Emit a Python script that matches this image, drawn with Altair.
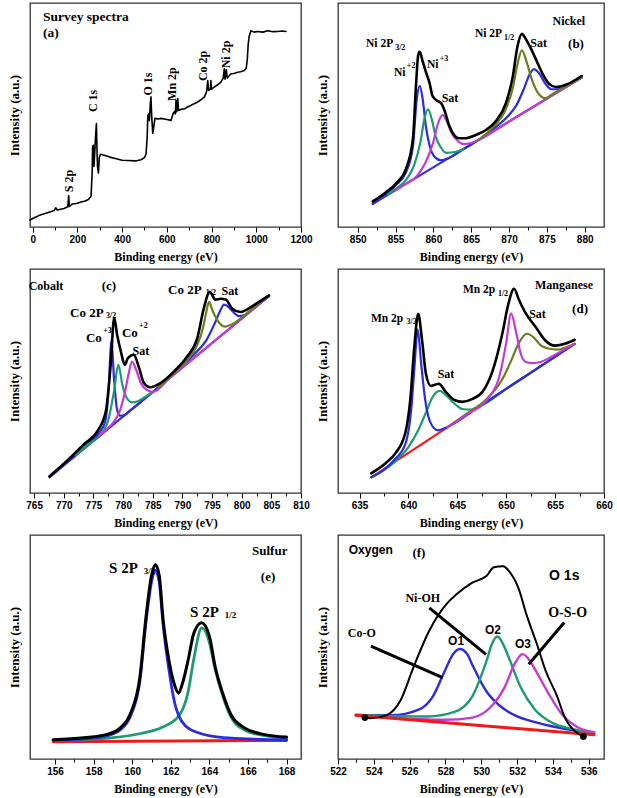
import altair as alt
import pandas as pd

# ---------------- colours ----------------
BLACK = "#000000"
BLUE = "#2b2be0"
GREEN = "#1f9a6e"
MAGENTA = "#c43bd4"
OLIVE = "#6b7d1e"
RED = "#f01818"

# ---------------- (a) survey ----------------
a_x = [-12, 7, 30, 52, 80, 97, 103, 110, 140, 157, 161, 164, 179, 200, 216, 235, 249, 261, 266, 268,
       271, 274, 278, 281, 285, 288, 290, 294, 298, 303, 320, 345, 365, 400, 425, 460, 484, 500, 507,
       512, 515, 519, 522, 526, 529, 532, 537, 542, 547, 560, 574, 600, 619, 628, 634, 638, 641, 644,
       649, 652, 663, 680, 693, 715, 738, 755, 768, 778, 783, 787, 795, 797, 800, 812, 828, 842, 852,
       857, 860, 866, 870, 887, 900, 917, 930, 946, 955, 960, 964, 968, 976, 990, 1006, 1030, 1051,
       1075, 1096, 1115, 1133]
a_y = [3.1, 4.1, 5.2, 5.9, 6.8, 7.4, 8.6, 7.6, 8.3, 9.0, 14.0, 9.2, 10.3, 10.6, 11.2, 11.6, 12.3, 13.7,
       24.0, 35.9, 36.5, 27.0, 34.0, 40.0, 46.2, 33.0, 27.0, 24.1, 31.0, 32.5, 32.0, 31.2, 30.7, 29.8,
       29.7, 29.5, 30.0, 31.0, 32.6, 40.0, 49.9, 50.5, 47.5, 55.0, 58.1, 50.0, 41.8, 45.0, 48.5, 48.2,
       48.5, 48.0, 47.6, 50.7, 51.5, 50.5, 56.5, 51.5, 57.3, 52.0, 52.5, 52.8, 53.6, 54.7, 55.8, 57.0,
       58.1, 60.5, 65.4, 61.0, 61.5, 65.4, 61.5, 62.5, 63.5, 64.7, 66.5, 70.6, 66.0, 70.3, 66.5, 68.4,
       68.5, 69.1, 69.3, 69.9, 70.8, 75.0, 81.7, 85.0, 87.6, 87.0, 87.3, 87.0, 87.6, 87.2, 87.3, 87.5,
       87.3]
a_labels = [("Survey spectra", 46, 93.75, "lefttitle"), ("(a)", 46, 86.6, "lefttitle"),
            ("S 2p", 162, 20.5, "rot"), ("C 1s", 270, 56.3, "rot"), ("O 1s", 516, 63.8, "rot"),
            ("Mn 2p", 623, 63.8, "rot"), ("Co 2p", 762, 71.9, "rot"), ("Ni 2p", 865, 77.0, "rot")]

# ---------------- (b) nickel ----------------
b_black_x = [852.0, 853.7, 855.1, 856.4, 857.3, 857.7, 858.0, 858.2, 858.6, 859.0, 859.5, 859.9, 860.6,
             861.0, 861.5, 862.1, 862.8, 863.4, 864.3, 865.6, 867.0, 868.3, 869.6, 870.5, 871.1, 871.7,
             872.2, 872.9, 873.6, 874.4, 875.3, 876.2, 877.5, 879.6]
b_black_y = [11.4, 15.4, 19.5, 26.1, 39.3, 62.8, 76.7, 78.2, 73.8, 69.4, 64.2, 58.4, 56.2, 55.4, 51.8,
             45.2, 40.8, 39.6, 39.6, 41.1, 43.4, 47.4, 55.4, 67.2, 80.4, 86.2, 84.0, 79.6, 74.5, 68.6,
             63.9, 62.5, 63.5, 67.4]
b_base_x = [852.0, 879.6]
b_base_y = [10.3, 66.7]
b_blue1_x = [852.0, 855.0, 856.4, 857.3, 857.8, 858.2, 858.6, 859.0, 859.5, 860.2, 861.0, 862.0, 864.0, 866.0]
b_blue1_y = [10.3, 18.5, 24.5, 36.0, 56.9, 63.0, 56.9, 45.2, 36.4, 31.2, 29.8, 30.7, 34.8, 38.9]
b_blue2_x = [866.0, 868.0, 870.0, 871.0, 872.0, 872.7, 873.3, 874.0, 874.8, 875.6, 876.5, 877.5, 878.5, 879.6]
b_blue2_y = [38.9, 44.0, 50.0, 54.5, 62.0, 68.0, 70.5, 68.5, 64.0, 61.5, 61.5, 62.8, 64.8, 66.7]
b_green_x = [854.0, 855.0, 856.5, 857.5, 858.3, 858.8, 859.3, 859.8, 860.3, 861.0, 861.7, 863.0, 864.0]
b_green_y = [14.6, 17.0, 21.5, 28.0, 38.0, 48.0, 52.5, 48.0, 40.5, 35.5, 33.1, 33.6, 34.8]
b_mag_x = [855.0, 856.0, 858.0, 859.0, 860.0, 860.6, 861.2, 861.8, 862.4, 863.2, 864.0, 865.0, 866.0,
           870.0, 874.0, 877.0, 879.6]
b_mag_y = [16.4, 18.5, 23.5, 29.0, 38.0, 46.0, 49.9, 47.0, 42.0, 38.5, 37.0, 37.5, 38.9,
           47.1, 55.3, 61.4, 66.7]
b_olive_x = [866.0, 868.0, 869.5, 870.5, 871.2, 871.7, 872.3, 873.0, 873.8, 874.8, 875.8, 877.0, 878.3, 879.6]
b_olive_y = [38.9, 45.0, 52.0, 62.0, 74.0, 78.9, 74.0, 66.0, 60.0, 57.5, 59.5, 61.8, 64.3, 66.7]
b_labels = [("Nickel", 877.9, 92.0, "name"), ("(b)", 878.85, 81.7, "tag"),
            ("Ni 2P", 851.1, 81.7, "peak"), ("3/2", 854.95, 80.1, "small"),
            ("Ni", 854.8, 68.75, "peak"), ("+2", 856.5, 71.9, "small"),
            ("Ni", 859.16, 72.3, "peak"), ("+3", 860.85, 75.0, "small"),
            ("Sat", 862.2, 57.6, "peakc"),
            ("Ni 2P", 865.5, 86.2, "peak"), ("1/2", 869.35, 84.4, "small"),
            ("Sat", 873.9, 82.1, "peakc")]

# ---------------- (c) cobalt ----------------
c_black_x = [767.6, 770.6, 773.4, 775.7, 777.1, 777.9, 778.5, 779.0, 779.6, 780.3, 780.8, 781.8, 782.7,
             783.5, 784.6, 786.3, 788.6, 790.8, 792.5, 793.6, 794.6, 795.6, 796.4, 797.3, 798.4, 799.8,
             802.0, 804.6]
c_black_y = [7.5, 14.5, 21.8, 27.7, 36.6, 57.2, 78.2, 70.5, 63.4, 57.2, 60.2, 61.7, 55.8, 49.1, 47.2,
             49.1, 54.3, 60.9, 69.0, 82.3, 89.7, 86.3, 86.7, 86.4, 82.3, 80.8, 83.8, 88.2]
c_base_x = [767.6, 804.6]
c_base_y = [7.1, 87.9]
c_blue1_x = [767.6, 774.0, 776.0, 777.0, 777.6, 778.0, 778.5, 779.0, 779.5, 780.0, 781.0, 783.0, 786.0]
c_blue1_y = [7.1, 22.0, 27.0, 32.0, 48.0, 68.3, 50.0, 37.0, 34.5, 34.5, 36.4, 40.7, 47.3]
c_blue2_x = [786.0, 788.0, 790.0, 792.0, 794.0, 795.5, 796.5, 797.0, 797.6, 798.5, 799.5, 800.5, 802.0, 804.6]
c_blue2_y = [47.3, 52.2, 57.0, 62.0, 68.0, 76.0, 82.0, 84.1, 83.5, 81.0, 79.0, 79.5, 82.5, 87.9]
c_green_x = [772.0, 774.0, 776.5, 777.5, 778.5, 779.2, 779.9, 780.6, 781.5, 782.5, 783.5, 785.0]
c_green_y = [16.8, 21.5, 27.0, 32.5, 46.0, 57.2, 48.0, 42.5, 40.5, 41.0, 42.5, 45.1]
c_mag_x = [776.0, 777.0, 778.5, 779.5, 780.3, 781.0, 781.5, 782.2, 783.0, 784.0, 785.0,
           788.0, 792.0, 796.0, 800.0, 804.6]
c_mag_y = [25.4, 28.0, 32.0, 37.0, 45.0, 54.0, 58.7, 55.0, 49.0, 46.0, 45.1,
           51.7, 60.4, 69.1, 77.9, 87.9]
c_olive_x = [786.0, 789.0, 791.0, 792.5, 793.5, 794.0, 794.5, 795.0, 795.5, 796.2, 797.2, 799.0, 801.0, 803.0, 804.6]
c_olive_y = [47.3, 54.5, 60.0, 66.0, 74.0, 80.5, 85.3, 82.0, 79.0, 76.0, 74.3, 76.3, 80.5, 84.9, 87.9]
c_labels = [("Cobalt", 767.0, 92.4, "name"), ("(c)", 777.6, 92.4, "tag"),
            ("Co 2P", 771.05, 80.4, "peakM"), ("3/2", 777.1, 79.0, "small"),
            ("Co", 773.74, 69.2, "peakM"), ("+3", 776.65, 72.3, "small"),
            ("Co", 779.81, 71.4, "peakM"), ("+2", 782.7, 74.6, "small"),
            ("Sat", 783.0, 63.4, "peakc"),
            ("Co 2P", 787.57, 90.6, "peakM"), ("1/2", 793.95, 89.3, "small"),
            ("Sat", 798.0, 90.2, "peakc")]

# ---------------- (d) manganese ----------------
d_black_x = [636.2, 637.7, 638.7, 639.7, 640.2, 640.6, 641.0, 641.4, 641.8, 642.3, 642.7, 643.1, 643.8,
             644.7, 645.5, 646.5, 647.6, 648.6, 649.6, 650.2, 650.8, 651.3, 652.0, 653.0, 654.0, 655.0,
             656.0, 657.0]
d_black_y = [8.8, 13.4, 17.9, 27.1, 42.0, 65.0, 80.0, 68.0, 53.0, 47.8, 48.3, 48.8, 45.3, 41.5, 40.7,
             41.9, 45.3, 54.4, 71.1, 84.0, 91.2, 86.3, 80.2, 74.2, 68.1, 65.8, 66.6, 68.4]
d_base_x = [636.2, 657.0]
d_base_y = [7.0, 66.6]
d_blue_x = [636.2, 638.5, 639.7, 640.3, 640.6, 640.95, 641.3, 641.7, 642.2, 643.0, 644.0, 647.0, 650.0,
            653.0, 657.0]
d_blue_y = [7.0, 14.5, 22.0, 38.0, 55.0, 72.9, 58.0, 42.0, 32.0, 28.0, 29.5, 37.9, 46.5, 55.1, 66.6]
d_green_x = [636.2, 638.5, 640.0, 641.0, 641.8, 642.5, 643.2, 644.0, 644.8, 645.5, 646.3, 647.0, 650.0,
             653.0, 657.0]
d_green_y = [7.0, 13.5, 20.5, 28.0, 36.0, 43.0, 45.6, 43.0, 39.5, 37.5, 37.2, 38.0, 46.5, 55.1, 66.6]
d_mag_x = [644.0, 646.0, 648.0, 649.3, 650.0, 650.5, 651.0, 651.5, 652.0, 652.7, 653.5, 654.5, 655.5, 657.0]
d_mag_y = [29.4, 35.2, 41.5, 52.0, 67.0, 80.2, 72.0, 62.0, 58.5, 58.0, 58.5, 60.5, 63.0, 66.6]
d_olive_x = [644.0, 646.0, 648.0, 649.5, 650.5, 651.3, 652.1, 652.8, 653.5, 654.3, 655.2, 656.2, 657.0]
d_olive_y = [29.4, 35.5, 42.0, 50.0, 59.0, 67.0, 71.1, 69.5, 66.0, 64.5, 64.0, 65.2, 66.6]
d_labels = [("Manganese", 655.91, 92.7, "name"), ("(d)", 657.55, 82.3, "tag"),
            ("Mn 2p", 636.17, 77.7, "peak"), ("3/2", 639.8, 76.3, "small"),
            ("Sat", 643.84, 53.1, "peakc"),
            ("Mn 2p", 645.58, 90.6, "peak"), ("1/2", 649.15, 88.8, "small"),
            ("Sat", 653.2, 80.0, "peakc")]

# ---------------- (e) sulfur ----------------
e_black_x = [155.9, 157.5, 158.7, 159.4, 159.9, 160.4, 160.7, 161.0, 161.2, 161.4, 161.6, 161.9, 162.2,
             162.4, 162.6, 162.9, 163.2, 163.6, 164.0, 164.3, 164.7, 165.1, 165.8, 166.8, 168.0]
e_black_y = [8.6, 9.5, 11.0, 14.0, 20.1, 36.7, 62.3, 81.9, 86.7, 81.9, 62.3, 44.2, 32.9, 29.4, 33.6,
             44.2, 56.3, 60.8, 54.8, 41.2, 29.1, 20.1, 14.0, 11.0, 9.8]
e_blue_x = [155.9, 157.5, 158.7, 159.4, 159.9, 160.4, 160.7, 161.0, 161.2, 161.4, 161.6, 161.9, 162.2,
            162.4, 162.8, 163.5, 164.5, 166.0, 168.0]
e_blue_y = [8.4, 9.0, 10.4, 13.2, 19.0, 35.0, 60.0, 79.0, 84.2, 79.0, 60.0, 40.0, 25.0, 19.5, 14.5,
            11.5, 9.8, 9.0, 8.6]
e_green_x = [155.9, 159.0, 160.5, 161.5, 162.4, 162.9, 163.2, 163.6, 164.0, 164.3, 164.7, 165.1, 165.8, 166.8, 168.0]
e_green_y = [8.2, 9.5, 11.5, 14.0, 19.0, 30.0, 45.0, 58.5, 52.0, 40.0, 28.0, 19.0, 13.0, 10.5, 9.3]
e_base_x = [155.9, 168.0]
e_base_y = [7.7, 8.3]
e_labels = [("Sulfur", 167.13, 92.9, "nameL"), ("(e)", 167.04, 81.4, "tag"),
            ("S 2P", 158.8, 85.3, "peakL"), ("3/2", 160.6, 83.9, "smallL"),
            ("S 2P", 163.0, 65.6, "peakL"), ("1/2", 164.8, 64.3, "smallL")]

# ---------------- (f) oxygen ----------------
f_black_x = [523.5, 523.8, 524.7, 525.5, 526.2, 527.1, 528.1, 528.6, 529.5, 530.3, 530.7, 531.2, 531.6,
             532.1, 532.5, 533.1, 533.6, 534.2, 534.7, 535.3, 535.7]
f_black_y = [18.5, 18.2, 19.5, 26.3, 40.7, 57.4, 69.6, 73.4, 78.7, 81.8, 85.6, 86.0, 83.3, 75.7, 65.0,
             51.4, 39.2, 28.6, 17.9, 11.9, 10.0]
f_base_x = [523.0, 536.3]
f_base_y = [19.5, 10.8]
f_blue_x = [523.0, 525.0, 526.5, 527.3, 528.0, 528.4, 528.8, 529.2, 529.5, 530.3, 531.0, 532.0, 533.0, 534.0, 535.0, 536.3]
f_blue_y = [19.7, 19.5, 22.0, 28.0, 40.0, 46.5, 49.1, 47.0, 42.0, 30.0, 24.0, 19.0, 16.5, 14.5, 13.0, 11.5]
f_green_x = [523.0, 527.0, 528.5, 529.5, 530.3, 530.6, 530.9, 531.2, 531.5, 532.2, 533.0, 534.0, 535.0, 536.3]
f_green_y = [19.7, 19.0, 21.0, 28.0, 44.0, 51.5, 54.7, 51.5, 46.0, 32.0, 22.0, 16.0, 13.5, 11.8]
f_mag_x = [523.0, 528.0, 529.5, 530.5, 531.3, 531.9, 532.3, 532.7, 533.0, 533.7, 534.5, 535.3, 536.3]
f_mag_y = [19.5, 17.5, 18.5, 23.0, 32.0, 43.0, 46.8, 44.0, 40.0, 30.0, 20.0, 14.5, 12.0]
f_pointer_x = [523.84, 527.1, 534.63]
f_pointer_y = [50.4, 67.5, 60.9]
f_pointer_x2 = [527.84, 530.26, 532.65]
f_pointer_y2 = [36.3, 46.7, 42.3]
f_labels = [("Oxygen", 523.83, 93.3, "sans"), ("(f)", 526.52, 91.8, "tag"),
            ("O 1s", 534.63, 81.7, "sansbig"), ("Ni-OH", 526.73, 72.0, "peakc"),
            ("Co-O", 523.33, 56.1, "peakc"), ("O1", 528.59, 52.7, "sans"),
            ("O2", 530.65, 57.6, "sans"), ("O3", 532.33, 51.2, "sans"),
            ("O-S-O", 534.82, 65.0, "peakbig")]

# ---------------- styles ----------------
SERIF = "Liberation Serif"
SANS = "Liberation Sans"
STYLES = {
    "lefttitle": dict(font=SERIF, fontSize=13.5, fontWeight="bold", align="left"),
    "rot": dict(font=SERIF, fontSize=12, fontWeight="bold", align="center", angle=270),
    "name": dict(font=SERIF, fontSize=12, fontWeight="bold", align="center"),
    "nameL": dict(font=SERIF, fontSize=13, fontWeight="bold", align="center"),
    "tag": dict(font=SERIF, fontSize=13, fontWeight="bold", align="center"),
    "peak": dict(font=SERIF, fontSize=11.5, fontWeight="bold", align="left"),
    "peakM": dict(font=SERIF, fontSize=13, fontWeight="bold", align="left"),
    "peakL": dict(font=SERIF, fontSize=15, fontWeight="bold", align="left"),
    "peakc": dict(font=SERIF, fontSize=12, fontWeight="bold", align="center"),
    "peakbig": dict(font=SERIF, fontSize=14, fontWeight="bold", align="center"),
    "small": dict(font=SERIF, fontSize=8, fontWeight="bold", align="left"),
    "smallL": dict(font=SERIF, fontSize=9, fontWeight="bold", align="left"),
    "sans": dict(font=SANS, fontSize=12, fontWeight="bold", align="center"),
    "sansbig": dict(font=SANS, fontSize=14, fontWeight="bold", align="center"),
}

LEFT_W, RIGHT_W, H = 271, 266, 224


def make_panel(domain, ticks, major, width, lines, labels, pointers=None, dots=None):
    xscale = alt.Scale(domain=domain, nice=False, zero=False)
    yscale = alt.Scale(domain=[0, 100], nice=False, zero=False)
    test = f"abs(datum.value % {major}) < 1e-6"
    xaxis = alt.Axis(
        title="Binding energy (eV)", values=ticks, format="d",
        labelExpr=f"{test} ? datum.label : ''",
        tickSize={"condition": {"test": test, "value": 5}, "value": 3},
        domain=False, grid=False, labelFlush=False, labelOverlap=False,
        labelPadding=2, titlePadding=7,
    )
    yaxis = alt.Axis(title="Intensity (a.u.)", labels=False, ticks=False, domain=False,
                     grid=False, titlePadding=9)
    X = alt.X("x:Q", scale=xscale, axis=xaxis)
    Y = alt.Y("y:Q", scale=yscale, axis=yaxis)
    layers = []
    for xs, ys, color, sw, interp in lines:
        df = pd.DataFrame({"x": xs, "y": ys})
        layers.append(alt.Chart(df).mark_line(color=color, strokeWidth=sw, interpolate=interp,
                                              strokeCap="round", strokeJoin="round").encode(x=X, y=Y))
    if pointers is not None:
        px, py, px2, py2 = pointers
        df = pd.DataFrame({"x": px, "y": py, "x2": px2, "y2": py2})
        layers.append(alt.Chart(df).mark_rule(color=BLACK, strokeWidth=3).encode(
            x=X, y=Y, x2="x2:Q", y2="y2:Q"))
    if dots is not None:
        df = pd.DataFrame({"x": dots[0], "y": dots[1]})
        layers.append(alt.Chart(df).mark_circle(color=BLACK, size=45, opacity=1).encode(x=X, y=Y))
    ldf = pd.DataFrame(labels, columns=["t", "x", "y", "style"])
    for style, grp in ldf.groupby("style", sort=False):
        layers.append(alt.Chart(grp).mark_text(baseline="middle", color=BLACK, **STYLES[style]).encode(
            x=X, y=Y, text="t:N"))
    return alt.layer(*layers).properties(width=width, height=H)


def rng(a, b, s):
    out, v = [], a
    while v <= b + 1e-9:
        out.append(round(v, 4))
        v += s
    return out


pa = make_panel([-12, 1200], rng(0, 1200, 100), 200, LEFT_W,
                [(a_x, a_y, BLACK, 1.6, "linear")], a_labels)

pb = make_panel([847.4, 882.55], rng(850, 880, 2.5), 5, RIGHT_W,
                [(b_base_x, b_base_y, "#3a2fd0", 2.2, "linear"),
                 (b_blue1_x, b_blue1_y, BLUE, 2.2, "monotone"),
                 (b_blue2_x, b_blue2_y, BLUE, 2.2, "monotone"),
                 (b_green_x, b_green_y, GREEN, 2.2, "monotone"),
                 (b_mag_x, b_mag_y, MAGENTA, 2.2, "monotone"),
                 (b_olive_x, b_olive_y, OLIVE, 2.2, "monotone"),
                 (b_black_x, b_black_y, BLACK, 2.6, "monotone")], b_labels)

pc = make_panel([764.3, 810], rng(765, 810, 2.5), 5, LEFT_W,
                [(c_base_x, c_base_y, "#3a2fd0", 2.2, "linear"),
                 (c_blue1_x, c_blue1_y, BLUE, 2.2, "monotone"),
                 (c_blue2_x, c_blue2_y, BLUE, 2.2, "monotone"),
                 (c_green_x, c_green_y, GREEN, 2.2, "monotone"),
                 (c_mag_x, c_mag_y, MAGENTA, 2.2, "monotone"),
                 (c_olive_x, c_olive_y, OLIVE, 2.2, "monotone"),
                 (c_black_x, c_black_y, BLACK, 2.6, "monotone")], c_labels)

pd_ = make_panel([632.8, 660], rng(635, 660, 2.5), 5, RIGHT_W,
                 [(d_base_x, d_base_y, RED, 2.0, "linear"),
                  (d_green_x, d_green_y, GREEN, 2.2, "monotone"),
                  (d_blue_x, d_blue_y, BLUE, 2.2, "monotone"),
                  (d_olive_x, d_olive_y, OLIVE, 2.2, "monotone"),
                  (d_mag_x, d_mag_y, MAGENTA, 2.2, "monotone"),
                  (d_black_x, d_black_y, BLACK, 2.6, "monotone")], d_labels)

pe = make_panel([154.7, 168.75], rng(156, 168, 1), 2, LEFT_W,
                [(e_base_x, e_base_y, RED, 3, "linear"),
                 (e_green_x, e_green_y, GREEN, 2.8, "monotone"),
                 (e_blue_x, e_blue_y, BLUE, 2.8, "monotone"),
                 (e_black_x, e_black_y, BLACK, 3, "monotone")], e_labels)

pf = make_panel([522, 536.85], rng(522, 536, 1), 2, RIGHT_W,
                [(f_blue_x, f_blue_y, BLUE, 2.4, "monotone"),
                 (f_green_x, f_green_y, GREEN, 2.4, "monotone"),
                 (f_mag_x, f_mag_y, MAGENTA, 2.4, "monotone"),
                 (f_base_x, f_base_y, RED, 3, "linear"),
                 (f_black_x, f_black_y, BLACK, 2, "monotone")], f_labels,
                pointers=(f_pointer_x, f_pointer_y, f_pointer_x2, f_pointer_y2),
                dots=([f_black_x[0], f_black_x[-1]], [f_black_y[0], f_black_y[-1]]))

chart = alt.concat(pa, pb, pc, pd_, pe, pf, columns=2,
                   spacing={"row": 42, "column": 37}, bounds="flush").properties(
    padding={"left": 7, "top": 2, "right": 2, "bottom": 2},
    background="white",
).configure_view(stroke="#333333", strokeWidth=1.3).configure_axis(
    labelFont=SANS, labelFontWeight="bold", labelFontSize=10, labelColor=BLACK,
    tickColor=BLACK, tickWidth=1,
    titleFont=SERIF, titleFontWeight="bold", titleColor=BLACK,
).configure_axisX(titleFontSize=12).configure_axisY(titleFontSize=13)

chart.save("out.html", embed_options={"renderer": "svg", "actions": False})
